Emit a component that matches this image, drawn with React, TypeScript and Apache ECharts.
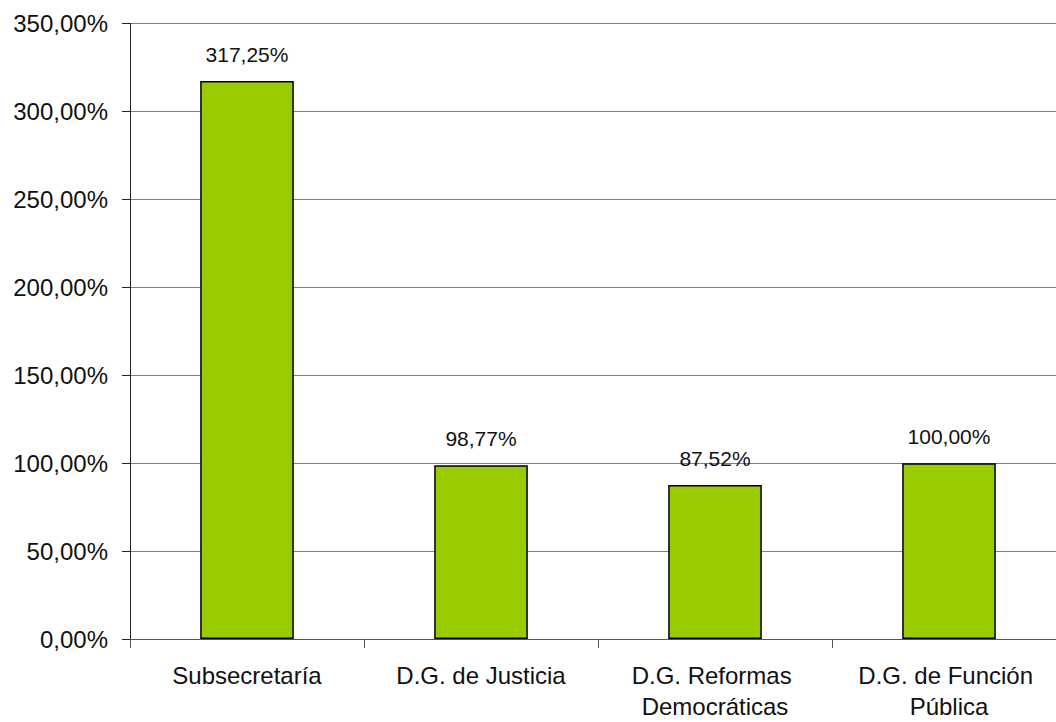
import React, { useEffect, useRef } from "react";
import * as echarts from "echarts";

const categories = [
  "Subsecretaría",
  "D.G. de Justicia",
  "D.G. Reformas Democráticas",
  "D.G. de Función Pública",
];
const values = [317.25, 98.77, 87.52, 100.0];
const yMin = 0;
const yMax = 350;
const yStep = 50;

const fmt = (v: number) => v.toFixed(2).replace(".", ",") + "%";
const FONT = "'Liberation Sans', Arial, sans-serif";

export default function App() {
  const ref = useRef<HTMLDivElement>(null);
  useEffect(() => {
    if (!ref.current) return;
    const chart = echarts.init(ref.current, undefined, { renderer: "svg" });
    chart.setOption({
      animation: false,
      backgroundColor: "#ffffff",
      textStyle: { fontFamily: FONT },
      grid: { left: 130, right: 14, top: 23.5, bottom: 81 },
      xAxis: {
        type: "category",
        data: categories,
        axisLine: { show: true, lineStyle: { color: "#555555", width: 1 } },
        axisTick: {
          show: true,
          alignWithLabel: false,
          length: 9,
          lineStyle: { color: "#555555" },
        },
        axisLabel: {
          interval: 0,
          margin: 21,
          fontSize: 24,
          lineHeight: 31,
          color: "#111111",
          fontFamily: FONT,
          width: 228,
          overflow: "break",
        },
      },
      yAxis: {
        type: "value",
        min: yMin,
        max: yMax,
        interval: yStep,
        axisLine: { show: true, lineStyle: { color: "#222222", width: 1 } },
        axisTick: { show: true, length: 8, lineStyle: { color: "#222222" } },
        axisLabel: {
          margin: 22,
          fontSize: 24,
          color: "#111111",
          fontFamily: FONT,
          formatter: (v: number) => fmt(v),
        },
        splitLine: { show: true, lineStyle: { color: "#808080", width: 1 } },
      },
      series: [
        {
          type: "bar",
          data: values,
          barWidth: "40%",
          itemStyle: { color: "#99CC00", borderColor: "#000000", borderWidth: 1.5 },
          label: {
            show: true,
            position: "top",
            distance: 16,
            fontSize: 21,
            color: "#111111",
            fontFamily: FONT,
            formatter: (p: any) => fmt(p.value),
          },
        },
      ],
    });
    return () => chart.dispose();
  }, []);
  return (
    <div
      style={{
        position: "fixed",
        left: 0,
        top: 0,
        width: 1056,
        height: 722,
        overflow: "hidden",
        background: "#fff",
      }}
    >
      <div ref={ref} style={{ width: 1080, height: 722 }} />
    </div>
  );
}
